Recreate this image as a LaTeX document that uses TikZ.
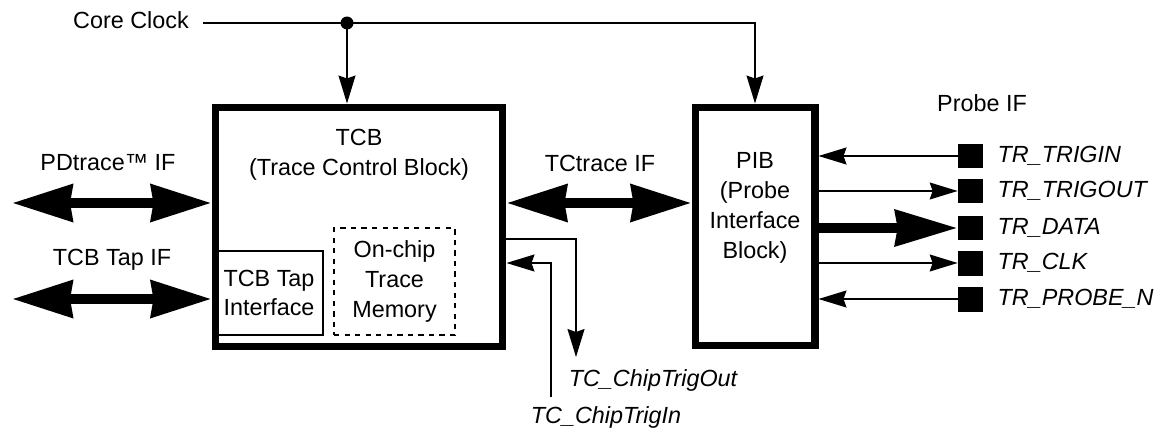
\documentclass[tikz,border=0pt]{standalone}
\usepackage{fontspec}
\setmainfont{Liberation Sans}
\usetikzlibrary{arrows.meta,positioning}

\tikzset{
  blk/.style={draw, line width=4pt, inner sep=0pt},
  sub/.style={draw, line width=0.8pt, inner sep=0pt},
  pin/.style={fill=black, minimum size=0.5cm, inner sep=0pt},
  plab/.style={font=\fontsize{13.3}{17}\selectfont\itshape, inner sep=0pt},
  sig/.style={line width=0.8pt, -{Stealth[length=0.56cm,width=0.34cm,inset=0.06cm]}},
  bus/.style={line width=0.2cm, {Stealth[length=1.2cm,width=0.72cm,inset=0.04cm]}-{Stealth[length=1.2cm,width=0.72cm,inset=0.04cm]}},
  fatbus/.style={line width=0.2cm, -{Stealth[length=1.24cm,width=0.7cm,inset=0.04cm]}}
}

\begin{document}
\begin{tikzpicture}[x=0.02cm, y=-0.02cm, font=\fontsize{13.3}{17}\selectfont]
		\useasboundingbox (0,0) rectangle (1162,429);
		
		%%%%% blocks %%%%%
		\node[blk, minimum width=5.76cm, minimum height=4.8cm] (tcb) at (359,227) {};
		\node[align=center] (tcbtxt) at (359,155) {TCB\\(Trace Control Block)};
		\node[sub, minimum width=2.16cm, minimum height=1.68cm, align=center] (tap) at (269,293) {TCB Tap\\Interface};
		\node[sub, dashed, minimum width=2.42cm, minimum height=2.14cm, align=center] (mem) at (394.5,281.5) {On-chip\\Trace\\Memory};
		
		\node[blk, minimum width=2.4cm, minimum height=4.78cm] (pib) at (755,226.5) {};
		\node[align=center] (pibtxt) at (755,208) {PIB\\(Probe\\Interface\\Block)};
		
		%%%%% clock %%%%%
		\node (clk) at (131,20) {Core Clock};
		\coordinate (clkin) at (203,23);
		\coordinate (dot) at (347,23);
		\draw[line width=0.8pt] (clkin) -- (dot);
		\fill (dot) circle (0.13cm);
		\draw[sig] (dot) -| (pib.north);
		\draw[sig] (dot) -- (dot |- tcb.north);
		
		%%%%% left side %%%%%
		\node (pdif) at (108,163) {PDtrace™ IF};
		\coordinate (pdl) at (12,203);
		\draw[bus] (pdl) -- (pdl -| tcb.west);
		
		\node (tapif) at (112,260) {TCB Tap IF};
		\coordinate (tapl) at (12,299);
		\draw[bus] (tapl) -- (tapl -| tcb.west);
		
		%%%%% between %%%%%
		\node (tcif) at (600,163) {TCtrace IF};
		\coordinate (tcy) at (600,203);
		\draw[bus] (tcy -| tcb.east) -- (tcy -| pib.west);
		
		\coordinate (ctoy) at (0,239);
		\coordinate (cto) at (576,357);
		\draw[sig] (ctoy -| tcb.east) -| (cto);
		\node[plab] (ctotxt) at (653,380) {TC\_ChipTrigOut};
		
		\coordinate (cti) at (551,397);
		\coordinate (ctiy) at (0,263);
		\draw[sig] (cti) |- (ctiy -| tcb.east);
		\node[plab] (ctitxt) at (606,417) {TC\_ChipTrigIn};
		
		%%%%% probe pins %%%%%
		\node (prif) at (982,103) {Probe IF};
		\node[pin] (p1) at (970.5,156) {};
		\node[pin] (p2) at (970.5,191) {};
		\node[pin] (p3) at (970.5,228) {};
		\node[pin] (p4) at (970.5,263) {};
		\node[pin] (p5) at (970.5,299) {};
		
		\node[plab, right=0.28cm of p1] (l1) {TR\_TRIGIN};
		\node[plab, right=0.28cm of p2] (l2) {TR\_TRIGOUT};
		\node[plab, right=0.28cm of p3] (l3) {TR\_DATA};
		\node[plab, right=0.28cm of p4] (l4) {TR\_CLK};
		\node[plab, right=0.28cm of p5] (l5) {TR\_PROBE\_N};
		
		\draw[sig] (p1.west) -- (p1.west -| pib.east);
		\draw[sig] (p2.west -| pib.east) -- (p2.west);
		\draw[fatbus] (p3.west -| pib.east) -- (p3.west);
		\draw[sig] (p4.west -| pib.east) -- (p4.west);
		\draw[sig] (p5.west) -- (p5.west -| pib.east);
	\end{tikzpicture}
\end{document}
